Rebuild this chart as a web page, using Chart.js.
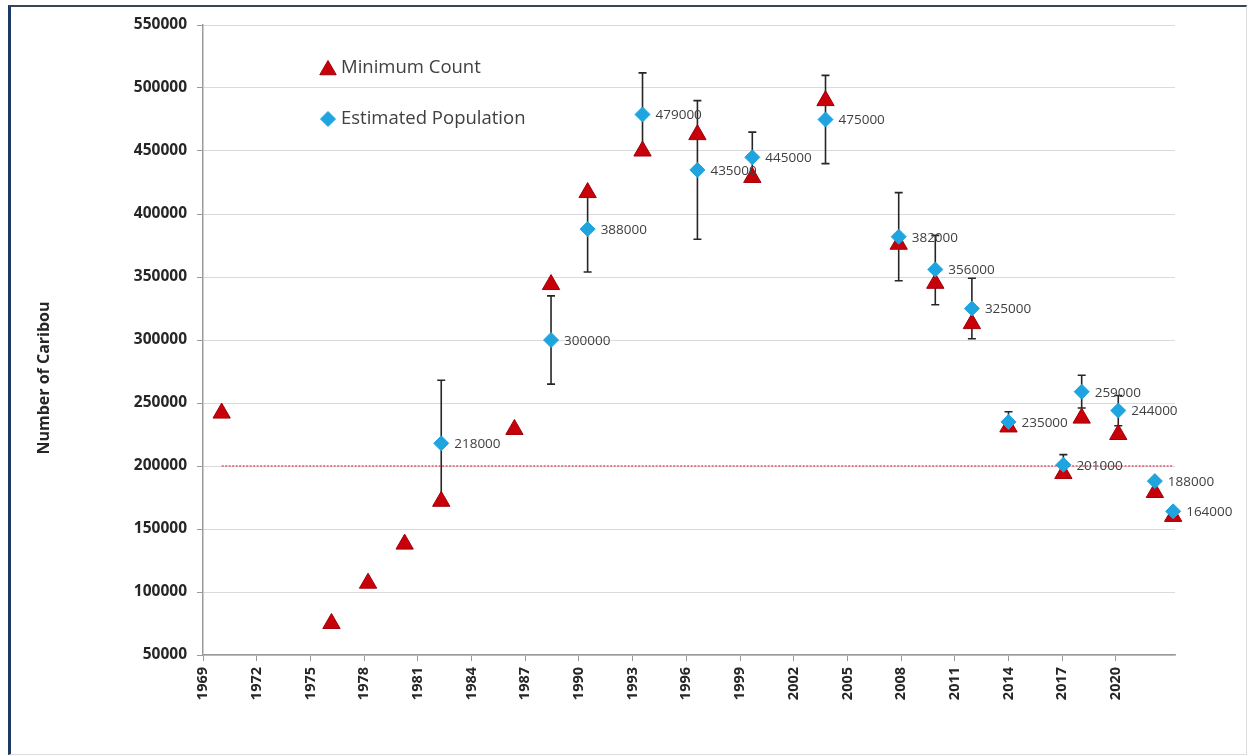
<!DOCTYPE html>
<html>
<head>
<meta charset="utf-8">
<script src="https://cdn.jsdelivr.net/npm/chart.js@4/dist/chart.umd.min.js"></script>
<style>
  html, body { margin: 0; padding: 0; background: #fff; }
  #frame {
    position: absolute; left: 8px; top: 5px; width: 1235px; height: 747px;
    border-left: 3px solid #1f3864; border-top: 2px solid #3b4652;
    border-right: 1px solid #dcdcdc; border-bottom: 1px solid #dcdcdc;
  }
  #chart { position: absolute; left: 0; top: 0; }
</style>
</head>
<body>
<div id="frame"></div>
<canvas id="chart" width="1249" height="756"></canvas>
<script>
// Minimum count surveys
const minYears = [1970, 1976, 1978, 1980, 1982, 1986, 1988, 1990, 1993, 1996, 1999, 2003, 2007, 2009, 2011, 2013, 2016, 2017, 2019, 2021, 2022];
const minCount = [242000, 75000, 107000, 138000, 172000, 229000, 344000, 417000, 450000, 463000, 429000, 490000, 376000, 345000, 313000, 231000, 194000, 238000, 225000, 179000, 160000];

// Estimated population with error bars
const estYears = [1982, 1988, 1990, 1993, 1996, 1999, 2003, 2007, 2009, 2011, 2013, 2016, 2017, 2019, 2021, 2022];
const estPop   = [218000, 300000, 388000, 479000, 435000, 445000, 475000, 382000, 356000, 325000, 235000, 201000, 259000, 244000, 188000, 164000];
const estLow   = [171000, 265000, 354000, 450000, 380000, 428000, 440000, 347000, 328000, 301000, 229000, 195000, 246000, 232000, null, null];
const estHigh  = [268000, 335000, 419000, 512000, 490000, 465000, 510000, 417000, 383000, 349000, 243000, 209000, 272000, 256000, null, null];

// threshold line
const thresholdYears = [1970, 2022];
const thresholdValue = 200000;

const xTickLabels = ['1969', '1972', '1975', '1978', '1981', '1984', '1987', '1990', '1993', '1996', '1999', '2002', '2005', '2008', '2011', '2014', '2017', '2020'];

const RED = '#c8000a';
const BLUE = '#1ea4de';
const TEXT = '#404040';
const FONT = "'Open Sans', 'DejaVu Sans', sans-serif";

// the axis labels in the source sit slightly off the data years
const TICK0 = 1968.98, TICKSTEP = 2.935;

const errorBars = {
  id: 'errorBars',
  beforeDatasetsDraw(chart) {
    const {ctx, scales: {x, y}} = chart;
    ctx.save();
    ctx.strokeStyle = '#262626';
    ctx.lineWidth = 1.6;
    estYears.forEach((yr, i) => {
      if (estLow[i] == null) return;
      const px = x.getPixelForValue(yr);
      const lo = y.getPixelForValue(estLow[i]);
      const hi = y.getPixelForValue(estHigh[i]);
      ctx.beginPath();
      ctx.moveTo(px, lo); ctx.lineTo(px, hi);
      ctx.moveTo(px - 4, lo); ctx.lineTo(px + 4, lo);
      ctx.moveTo(px - 4, hi); ctx.lineTo(px + 4, hi);
      ctx.stroke();
    });
    ctx.restore();
  }
};

const extras = {
  id: 'extras',
  afterDatasetsDraw(chart) {
    const {ctx, scales: {x, y}} = chart;
    ctx.save();
    // value labels
    ctx.font = `13.5px ${FONT}`;
    ctx.fillStyle = TEXT;
    ctx.textAlign = 'left';
    ctx.textBaseline = 'middle';
    estYears.forEach((yr, i) => {
      ctx.fillText(String(estPop[i]), x.getPixelForValue(yr) + 13, y.getPixelForValue(estPop[i]) + 1);
    });

    // legend inside plot
    ctx.fillStyle = RED;
    ctx.strokeStyle = '#a00008';
    Chart.helpers.drawPoint(ctx, {pointStyle: 'triangle', radius: 9.5, borderWidth: 1, rotation: 0}, 328, 70);
    ctx.fillStyle = BLUE;
    ctx.strokeStyle = BLUE;
    Chart.helpers.drawPoint(ctx, {pointStyle: 'rectRot', radius: 7.5, borderWidth: 1, rotation: 0}, 328, 119);
    ctx.font = `18.5px ${FONT}`;
    ctx.fillStyle = TEXT;
    ctx.fillText('Minimum Count', 341, 68);
    ctx.fillText('Estimated Population', 341, 119);

    // y axis title
    ctx.translate(44, 378);
    ctx.rotate(-Math.PI / 2);
    ctx.textAlign = 'center';
    ctx.font = `bold 16px ${FONT}`;
    ctx.fillStyle = '#262626';
    ctx.fillText('Number of Caribou', 0, 0);
    ctx.restore();
  }
};

new Chart(document.getElementById('chart'), {
  type: 'scatter',
  data: {
    datasets: [
      {
        label: 'Estimated Population',
        data: estYears.map((yr, i) => ({x: yr, y: estPop[i]})),
        pointStyle: 'rectRot', pointRadius: 7.5,
        backgroundColor: BLUE, borderColor: BLUE, borderWidth: 1,
        clip: false
      },
      {
        label: 'Minimum Count',
        data: minYears.map((yr, i) => ({x: yr, y: minCount[i]})),
        pointStyle: 'triangle', pointRadius: 10,
        backgroundColor: RED, borderColor: '#a00008', borderWidth: 1,
        clip: false
      },
      {
        label: 'Threshold',
        data: thresholdYears.map(yr => ({x: yr, y: thresholdValue})),
        showLine: true, pointRadius: 0,
        borderColor: 'rgba(226, 70, 95, 0.9)', borderWidth: 1.6, borderDash: [2, 1.5]
      }
    ]
  },
  options: {
    responsive: false,
    devicePixelRatio: 1,
    animation: false,
    layout: {padding: {left: 0, top: 25, right: 74, bottom: 0}},
    plugins: {legend: {display: false}, tooltip: {enabled: false}},
    scales: {
      x: {
        type: 'linear',
        min: 1968.98, max: 2022.1,
        afterBuildTicks: s => { s.ticks = xTickLabels.map((t, i) => ({value: TICK0 + i * TICKSTEP})); },
        afterFit: s => { s.height = 101; },
        border: {display: true, color: '#9a9a9a', width: 1.5},
        grid: {drawOnChartArea: false, drawTicks: true, tickLength: 6, color: '#9a9a9a'},
        ticks: {
          autoSkip: false, minRotation: 90, maxRotation: 90, padding: 6,
          color: '#262626', font: {family: FONT, size: 14.5, weight: 'bold'},
          callback: (v, i) => xTickLabels[i]
        }
      },
      y: {
        min: 50000, max: 550000,
        ticks: {
          stepSize: 50000, padding: 10,
          color: '#262626', font: {family: FONT, size: 15.5, weight: 'bold'},
          callback: v => String(v)
        },
        afterFit: s => { s.width = 203; },
        border: {display: true, color: '#9a9a9a', width: 1.5},
        grid: {color: '#dadada', lineWidth: 1, tickLength: 6, tickColor: '#9a9a9a'}
      }
    }
  },
  plugins: [errorBars, extras]
});
</script>
</body>
</html>
